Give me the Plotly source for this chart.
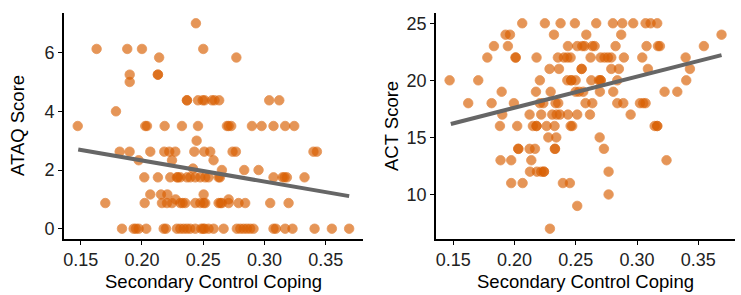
import plotly.graph_objects as go

# ---------------- data ----------------
# Left panel: Secondary Control Coping vs ATAQ Score
ataq_coping = [
    0.244,
    0.163, 0.188, 0.200, 0.250,
    0.214, 0.277,
    0.190, 0.213, 0.213,
    0.190,
    0.2367, 0.2367, 0.2457, 0.2495, 0.2511, 0.2571, 0.2592, 0.2630, 0.3038, 0.3120,
    0.1788,
    0.1476, 0.2027, 0.2041, 0.2185, 0.2326, 0.2457, 0.2693, 0.2707, 0.2728, 0.2897, 0.2976, 0.3073, 0.3168, 0.3242,
    0.2446,
    0.1818, 0.1899, 0.2068, 0.2182, 0.2223, 0.2272, 0.2427, 0.2508, 0.2557, 0.2739, 0.2766, 0.3399, 0.3427,
    0.1973, 0.2245, 0.2584,
    0.2416, 0.2652, 0.2834, 0.2951,
    0.2019, 0.2130, 0.2231, 0.2285, 0.2293, 0.2313, 0.2367, 0.2394, 0.2435, 0.2476, 0.2516, 0.2543, 0.2625, 0.2636,
    0.3073, 0.3147, 0.3163, 0.3182, 0.3326,
    0.2068, 0.2155, 0.2207, 0.2503,
    0.2274, 0.2707,
    0.1701, 0.2022, 0.2163, 0.2204, 0.2245, 0.2313, 0.2332, 0.2353, 0.2435, 0.2476, 0.2503, 0.2516, 0.2625, 0.2641,
    0.2652, 0.2707, 0.2788, 0.2842, 0.3046, 0.3196,
    0.1837, 0.1932, 0.1951, 0.1973, 0.2035, 0.2177, 0.2196, 0.2285, 0.2313, 0.2340, 0.2367, 0.2394, 0.2435, 0.2484,
    0.2500, 0.2511, 0.2543, 0.2584, 0.2666, 0.2774, 0.2802, 0.2829, 0.2856, 0.2883, 0.2910, 0.3073, 0.3092, 0.3168,
    0.3228, 0.3408, 0.3549, 0.3690,
]
ataq_score = (
    [7.0]
    + [6.125] * 4
    + [5.833] * 2
    + [5.25] * 3
    + [5.0]
    + [4.375] * 10
    + [4.0]
    + [3.5] * 14
    + [3.0]
    + [2.625] * 13
    + [2.333] * 3
    + [2.05, 2.0, 2.0, 2.0]
    + [1.75] * 19
    + [1.167] * 4
    + [1.0] * 2
    + [0.875] * 20
    + [0.0] * 32
)

# Right panel: Secondary Control Coping vs ACT Score
act_coping = [
    0.2063, 0.2248, 0.2376, 0.2493, 0.2667, 0.2803, 0.2880, 0.2969, 0.3070, 0.3111, 0.3165,
    0.1927, 0.1963, 0.2322, 0.2586, 0.2871, 0.3690,
    0.1832, 0.1946, 0.2436, 0.2512, 0.2553, 0.2572, 0.2635, 0.2654, 0.2825, 0.3078, 0.3171, 0.3187, 0.3546,
    0.1778, 0.2009, 0.2009, 0.2180, 0.2354, 0.2403, 0.2431, 0.2458, 0.2621, 0.2703, 0.2735, 0.2763, 0.2790, 0.2893,
    0.3043, 0.3397,
    0.2286, 0.2363, 0.2548, 0.2548, 0.2790, 0.2852, 0.3089, 0.3432,
    0.1470, 0.1704, 0.2207, 0.2431, 0.2463, 0.2463, 0.2499, 0.2627, 0.2689, 0.2703, 0.2703, 0.2839, 0.3402,
    0.1895, 0.2175, 0.2295, 0.2499, 0.2526, 0.2561, 0.2697, 0.2806, 0.3225, 0.3329,
    0.1622, 0.1813, 0.1995, 0.2207, 0.2235, 0.2335, 0.2357, 0.2580, 0.2635, 0.2839, 0.2888, 0.3024, 0.3051, 0.3070,
    0.1900, 0.2123, 0.2218, 0.2308, 0.2344, 0.2371, 0.2436, 0.2512, 0.2616, 0.2948,
    0.1881, 0.2022, 0.2150, 0.2180, 0.2180, 0.2262, 0.2327, 0.2458, 0.2471, 0.3144, 0.3165, 0.3165,
    0.2276, 0.2341, 0.2695,
    0.2031, 0.2031, 0.2123, 0.2167, 0.2330, 0.2330, 0.2730,
    0.1886, 0.1973, 0.2137, 0.3241,
    0.2126, 0.2183, 0.2218, 0.2240, 0.2240, 0.2768,
    0.1973, 0.2066, 0.2395, 0.2452,
    0.2768,
    0.2512,
    0.2289,
]
act_score = (
    [25] * 11 + [24] * 6 + [23] * 13 + [22] * 16 + [21] * 8 + [20] * 13 + [19] * 10
    + [18] * 14 + [17] * 10 + [16] * 12 + [15] * 3 + [14] * 7 + [13] * 4 + [12] * 6
    + [11] * 4 + [10] + [9] + [7]
)

# Fitted regression lines, endpoints
ataq_fit_x = [0.148, 0.369]
ataq_fit_y = [2.70, 1.11]
act_fit_x = [0.148, 0.369]
act_fit_y = [16.18, 22.21]

x_ticks = [0.15, 0.20, 0.25, 0.30, 0.35]
x_tick_labels = ["0.15", "0.20", "0.25", "0.30", "0.35"]
ataq_ticks = [0, 2, 4, 6]
act_ticks = [10, 15, 20, 25]

x_title = "Secondary Control Coping"
left_y_title = "ATAQ Score"
right_y_title = "ACT Score"

# ---------------- figure ----------------
W, H = 741, 295
POINT = "#D95F02"
LINE = "#666666"
FONT = "Liberation Sans, Arial, sans-serif"

fig = go.Figure()

for xs, ys, fx, fy, xa, ya in [
    (ataq_coping, ataq_score, ataq_fit_x, ataq_fit_y, "x", "y"),
    (act_coping, act_score, act_fit_x, act_fit_y, "x2", "y2"),
]:
    fig.add_trace(go.Scatter(
        x=xs, y=ys, mode="markers", xaxis=xa, yaxis=ya, showlegend=False,
        marker=dict(size=9.5, color=POINT, opacity=0.66,
                    line=dict(width=0.8, color=POINT)),
        hoverinfo="skip",
    ))
    fig.add_trace(go.Scatter(
        x=fx, y=fy, mode="lines", xaxis=xa, yaxis=ya, showlegend=False,
        line=dict(color=LINE, width=4), hoverinfo="skip",
    ))

px = lambda v: v / W
py = lambda v: 1 - v / H

axis_common = dict(
    showline=True, linecolor="black", linewidth=1.6, mirror=False,
    ticks="outside", ticklen=4, tickwidth=1.3, tickcolor="black",
    showgrid=False, zeroline=False,
    tickfont=dict(family=FONT, size=18, color="#222222"),
)

fig.update_layout(
    width=W, height=H,
    margin=dict(l=0, r=0, t=0, b=0),
    paper_bgcolor="white", plot_bgcolor="white",
    xaxis=dict(domain=[px(64), px(363)], range=[0.1364, 0.3803], anchor="y",
               tickvals=x_ticks, ticktext=x_tick_labels, **axis_common),
    yaxis=dict(domain=[py(239), py(13)], range=[-0.35, 7.35], anchor="x",
               tickvals=ataq_ticks, **axis_common),
    xaxis2=dict(domain=[px(436), px(735)], range=[0.1359, 0.38], anchor="y2",
                tickvals=x_ticks, ticktext=x_tick_labels, **axis_common),
    yaxis2=dict(domain=[py(239), py(13)], range=[6.1, 25.9], anchor="x2",
                tickvals=act_ticks, **axis_common),
)

title_font = dict(family=FONT, size=18.5, color="black")
fig.add_annotation(text=left_y_title, x=px(18), y=py(126), xref="paper", yref="paper",
                   textangle=-90, showarrow=False, font=title_font,
                   xanchor="center", yanchor="middle")
fig.add_annotation(text=right_y_title, x=px(392), y=py(126), xref="paper", yref="paper",
                   textangle=-90, showarrow=False, font=title_font,
                   xanchor="center", yanchor="middle")
fig.add_annotation(text=x_title, x=px(213.5), y=py(281), xref="paper", yref="paper",
                   showarrow=False, font=title_font, xanchor="center", yanchor="middle")
fig.add_annotation(text=x_title, x=px(585.5), y=py(281), xref="paper", yref="paper",
                   showarrow=False, font=title_font, xanchor="center", yanchor="middle")

fig.write_html(
    "out.html",
    config={"displayModeBar": False},
    post_script="document.body.style.margin='0px';document.body.style.overflow='hidden';",
)
